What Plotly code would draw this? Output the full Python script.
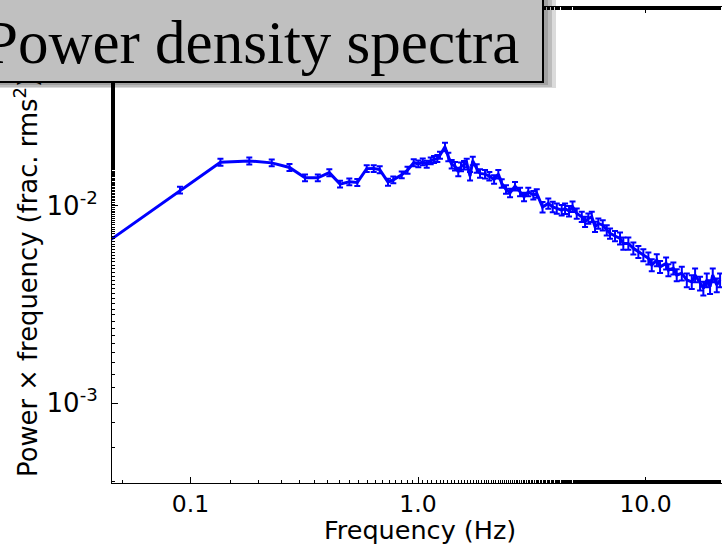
import plotly.graph_objects as go

# Frequency (Hz)
freq = [0.030, 0.0899, 0.1354, 0.1813, 0.2275, 0.2723, 0.3187, 0.3627, 0.4075, 0.4542, 0.4989,
        0.5409, 0.5950, 0.6387, 0.6786, 0.7380, 0.7787, 0.8479, 0.8992, 0.9574, 1.003, 1.049,
        1.092, 1.137, 1.176, 1.216, 1.249, 1.314, 1.359, 1.406, 1.454, 1.503, 1.545, 1.593,
        1.637, 1.693, 1.740, 1.811, 1.873, 1.970, 2.058, 2.159, 2.254, 2.333, 2.436, 2.538,
        2.669, 2.808, 2.924, 3.053, 3.212, 3.325, 3.526, 3.738, 3.909, 4.072, 4.280, 4.428,
        4.610, 4.776, 4.984, 5.243, 5.422, 5.606, 5.802, 5.998, 6.202, 6.484, 6.752, 6.982,
        7.342, 7.723, 7.986, 8.402, 8.838, 9.298, 9.779, 10.29, 10.65, 11.20, 11.58, 12.31,
        12.60, 13.25, 13.71, 14.43, 15.18, 15.96, 16.51, 17.36, 17.95, 18.58, 19.21, 19.74,
        20.56, 21.26]

# Power x frequency (frac. rms^2)
power = [0.00488, 0.01201, 0.01664, 0.01687, 0.01650, 0.01564, 0.01386, 0.01386, 0.01472, 0.01288,
         0.01323, 0.01314, 0.01543, 0.01545, 0.01525, 0.01318, 0.01354, 0.01435, 0.01516, 0.01654,
         0.01632, 0.01670, 0.01626, 0.01689, 0.01717, 0.01738, 0.01805, 0.01989, 0.01770, 0.01626,
         0.01589, 0.01486, 0.01576, 0.01607, 0.01650, 0.01414, 0.01689, 0.01546, 0.01459, 0.01447,
         0.01414, 0.01360, 0.01447, 0.01298, 0.01211, 0.01163, 0.01258, 0.01177, 0.01110, 0.01177,
         0.01133, 0.01156, 0.00985, 0.01028, 0.00988, 0.00970, 0.00951, 0.00968, 0.00940, 0.00991,
         0.00915, 0.00880, 0.00830, 0.00863, 0.00880, 0.00783, 0.00814, 0.00798, 0.00753, 0.00725,
         0.00703, 0.00684, 0.00645, 0.00645, 0.00609, 0.00585, 0.00563, 0.00542, 0.00501, 0.00531,
         0.00491, 0.00511, 0.00473, 0.00482, 0.00446, 0.00455, 0.00421, 0.00412, 0.00446, 0.00405,
         0.00382, 0.00421, 0.00389, 0.00446, 0.00397, 0.00421]

# Relative error (percent) of each point
err_pct = [5, 4, 4, 4, 4, 4, 4, 4, 4, 4, 4, 4, 4,
           4, 4, 4, 4, 4, 4, 4, 4, 4, 4, 4, 4, 4,
           4, 5, 5, 5, 5, 5, 5, 5, 5, 5, 5, 5, 5,
           5, 5, 5, 5, 5, 5, 5, 5, 5, 5, 5, 5, 5,
           6, 6, 6, 6, 6, 6, 6, 6, 6, 6, 6, 6, 6,
           6, 6, 6, 6, 6, 6, 7, 7, 7, 7, 7, 7, 7,
           7, 7, 7, 7, 7, 7, 7, 8, 8, 8, 8, 8, 8,
           8, 8, 8, 8, 8]

x_tickvals = [0.1, 1.0, 10.0]
x_ticktext = ["0.1", "1.0", "10.0"]
y_tickvals = [1e-3, 1e-2]
y_ticktext = ["10<sup>-3</sup>", "10<sup>-2</sup>"]

title_text = "Power density spectra"
x_title = "Frequency (Hz)"
y_title = "Power \u00d7 frequency (frac. rms<sup>2</sup>)"

err = [p * e / 100.0 for p, e in zip(power, err_pct)]

W, H = 722, 544
ML, MR, MT, MB = 112, 0, 7, 61
PW, PH = W - ML - MR, H - MT - MB


def px_x(px):
    return (px - ML) / PW


def px_y(py):
    return (H - MB - py) / PH


fig = go.Figure()
fig.add_trace(go.Scatter(
    x=freq, y=power, mode="lines",
    line=dict(color="#0000ff", width=3),
    error_y=dict(type="data", array=err, visible=True, color="#0000ff", thickness=2, width=3),
    showlegend=False, hoverinfo="skip",
))

fig.update_xaxes(
    type="log", range=[-1.345, 1.336],
    tickvals=x_tickvals, ticktext=x_ticktext,
    ticks="inside", ticklen=6, tickwidth=1, tickcolor="black",
    minor=dict(ticks="inside", ticklen=3, tickwidth=1, tickcolor="black", showgrid=False),
    showline=True, linecolor="black", linewidth=1, mirror="ticks",
    showgrid=False, zeroline=False,
    tickfont=dict(family="DejaVu Sans", size=23.5, color="black"), ticklabelstandoff=0,
)
fig.update_yaxes(
    type="log", range=[-3.404, -0.993],
    tickvals=y_tickvals, ticktext=y_ticktext,
    ticks="inside", ticklen=6, tickwidth=1, tickcolor="black",
    minor=dict(ticks="inside", ticklen=3, tickwidth=1, tickcolor="black", showgrid=False),
    showline=True, linecolor="black", linewidth=1, mirror=False,
    showgrid=False, zeroline=False,
    tickfont=dict(family="DejaVu Sans", size=26, color="black"), ticklabelstandoff=8,
)

annotations = [
    dict(text=y_title, xref="paper", yref="paper", x=px_x(26), y=px_y(479),
         xanchor="center", yanchor="bottom", textangle=-90, showarrow=False,
         font=dict(family="DejaVu Sans", size=25.8, color="black")),
    dict(text=x_title, xref="paper", yref="paper", x=px_x(420), y=px_y(530),
         xanchor="center", yanchor="middle", showarrow=False,
         font=dict(family="DejaVu Sans", size=25.5, color="black")),
    dict(text=title_text, xref="paper", yref="paper", x=px_x(-23), y=px_y(83),
         xanchor="left", yanchor="bottom", showarrow=False,
         width=553, height=89, borderpad=5, borderwidth=2,
         align="left", valign="bottom",
         bordercolor="black", bgcolor="#c0c0c0",
         font=dict(family="Liberation Serif", size=61, color="black")),
]

# drop shadow of the title box (drawn as paper shapes)
shapes = []
for k in (12, 8, 4):
    shapes.append(dict(
        type="rect", xref="paper", yref="paper", layer="above",
        x0=px_x(-30), x1=px_x(544 + k), y0=px_y(83 + round(k * 0.45)), y1=px_y(-30),
        fillcolor="rgba(0,0,0,0.14)", line=dict(width=0)))

fig.update_layout(
    width=W, height=H,
    margin=dict(l=ML, r=MR, t=MT, b=MB, pad=0),
    paper_bgcolor="white", plot_bgcolor="white",
    annotations=annotations, shapes=shapes,
)

fig.write_html("out.html")
